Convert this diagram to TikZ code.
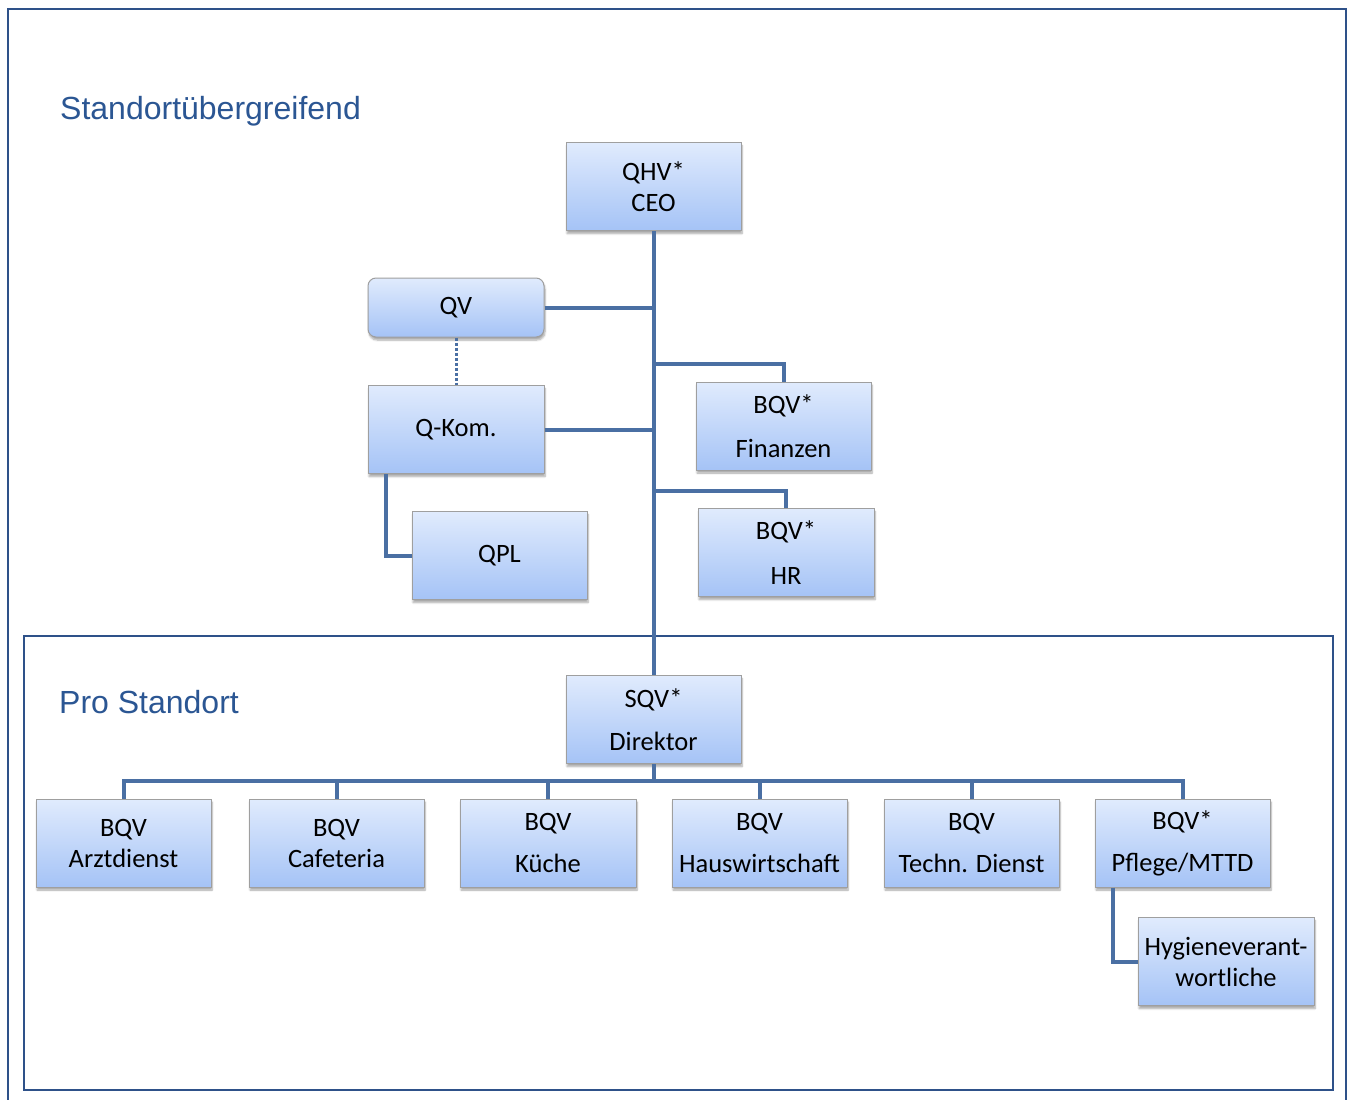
\documentclass[tikz,border=0pt]{standalone}
\usepackage{fontspec}
\setmainfont{Carlito}
\newfontfamily\titlefont{Liberation Sans}
\usetikzlibrary{shadows.blur}
\definecolor{linie}{HTML}{4A6FA3}
\definecolor{rahmen}{HTML}{2E5189}
\definecolor{titel}{HTML}{2B5693}
\definecolor{boxtop}{HTML}{E0EBFD}
\definecolor{boxbot}{HTML}{A5C3F6}
\tikzset{
	box/.style={draw=gray!75,line width=1pt,top color=boxtop,bottom color=boxbot,minimum width=175pt,minimum height=88pt,inner sep=0pt,align=center,font=\fontsize{26.5}{31}\selectfont,blur shadow={shadow xshift=1pt,shadow yshift=-3pt,shadow blur steps=6,shadow opacity=35}},
	verb/.style={draw=linie,line width=4pt},
	titel/.style={text=titel,anchor=base west,inner sep=0pt,font=\titlefont\fontsize{32}{38}\selectfont}
}
\begin{document}
\begin{tikzpicture}[x=1pt,y=-1pt]
	\useasboundingbox (0,0) rectangle (1352,1100);
	% Rahmen
	\draw[rahmen,line width=2.5pt] (8,1100) |- (1346,9) -- (1346,1100);
	\draw[rahmen,line width=2.5pt] (24,636) rectangle (1333,1090);
	\node[titel] (tUeber) at (60,119) {Standortübergreifend};
	\node[titel] (tPro) at (59,713) {Pro Standort};
	% standortuebergreifend
	\node[box] (qhv) at (653.5,186.5) {QHV*\\CEO};
	\node[box,rounded corners=8pt,minimum height=59pt,minimum width=176pt] (qv) at (456,307.5) {QV};
	\node[box,minimum width=176pt] (qkom) at (456,429.5) {Q-Kom.};
	\node[box] (qpl) at (499.5,555.5) {QPL};
	\node[box] (fin) at (783.5,426) {BQV*\\[13pt]Finanzen};
	\node[box,minimum width=176pt] (hr) at (786,552.5) {BQV*\\[14pt]HR};
	% pro Standort
	\node[box] (sqv) at (653.5,719.5) {SQV*\\[12pt]Direktor};
	\node[box] (arzt) at (123.5,843) {BQV\\Arztdienst};
	\node[box] (caf) at (336.5,843) {BQV\\Cafeteria};
	\node[box,minimum width=176pt] (kueche) at (548,843) {BQV\\[11pt]Küche};
	\node[box] (haus) at (759.5,843) {BQV\\[11pt]Hauswirtschaft};
	\node[box] (techn) at (971.5,843) {BQV\\[11pt]Techn. Dienst};
	\node[box] (pflege) at (1182.5,843) {BQV*\\[11pt]Pflege/MTTD};
	\node[box,minimum width=176pt] (hyg) at (1226,961.5) {Hygieneverant-\\wortliche};
	% Verbindungen
	\draw[verb] (qhv.south)--(sqv.north) (qv.east)--(qv.east-|qhv.south) (qkom.east)--(qkom.east-|qhv.south);
	\draw[verb] (fin.north)--++(0,-18)-|(qhv.south) (hr.north)--++(0,-17)-|(qhv.south);
	\draw[verb] ([xshift=18pt]qkom.south west)|-(qpl.west);
	\draw[linie,line width=3pt,dash pattern=on 3pt off 2pt] (qv.south)--(qkom.north);
	\draw[verb] (arzt.north)--++(0,-18)-|(sqv.south) (caf.north)--++(0,-18)-|(sqv.south) (kueche.north)--++(0,-18)-|(sqv.south) (haus.north)--++(0,-18)-|(sqv.south) (techn.north)--++(0,-18)-|(sqv.south) (pflege.north)--++(0,-18)-|(sqv.south);
	\draw[verb] ([xshift=18pt]pflege.south west)|-(hyg.west);
\end{tikzpicture}
\end{document}
